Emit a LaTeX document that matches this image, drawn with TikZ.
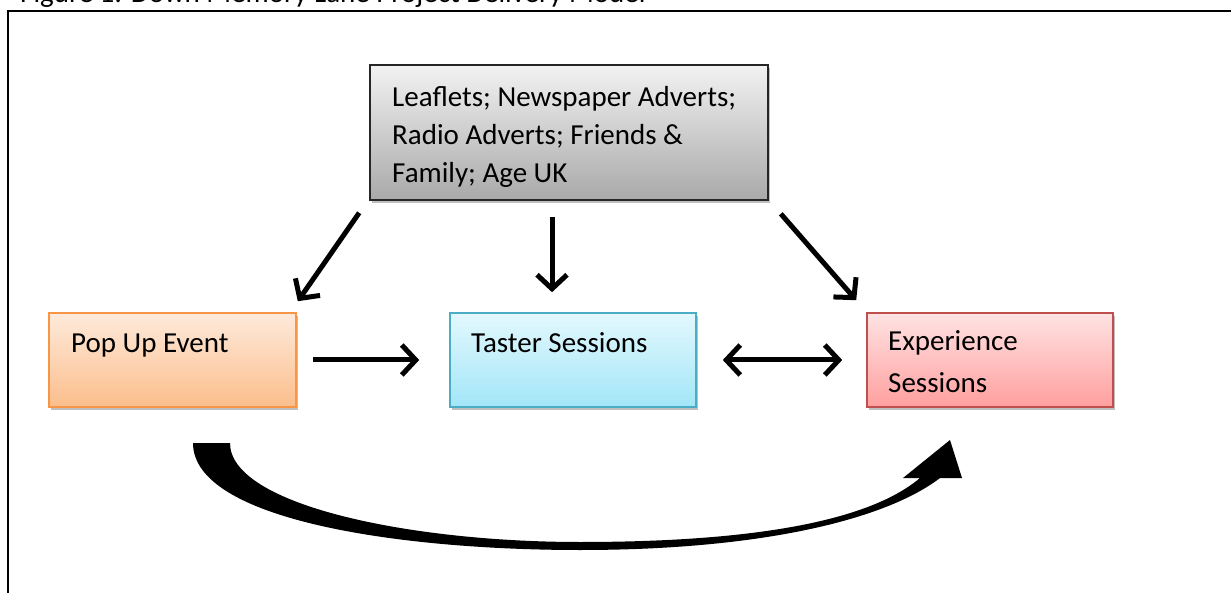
\documentclass[tikz,border=0pt]{standalone}
\usepackage{fontspec}
\setmainfont{Carlito}
\usetikzlibrary{arrows.meta,shadows}
\definecolor{popborder}{HTML}{F79646}
\definecolor{poptop}{HTML}{FEEADB}
\definecolor{popbot}{HTML}{FBBE8C}
\definecolor{tasborder}{HTML}{4BACC6}
\definecolor{tastop}{HTML}{E3F8FD}
\definecolor{tasbot}{HTML}{A2E6F8}
\definecolor{expborder}{HTML}{C0504D}
\definecolor{exptop}{HTML}{FFE3E3}
\definecolor{expbot}{HTML}{FF9F9F}
\definecolor{srctop}{HTML}{F2F2F2}
\definecolor{srcbot}{HTML}{A9A9A9}
\tikzset{
  boxbase/.style={rectangle, inner sep=0pt, line width=1.6pt,
    drop shadow={shadow xshift=2pt, shadow yshift=-3pt, opacity=0.25, fill=black}},
  popbox/.style={boxbase, draw=popborder, top color=poptop, bottom color=popbot},
  tasbox/.style={boxbase, draw=tasborder, top color=tastop, bottom color=tasbot},
  expbox/.style={boxbase, draw=expborder, top color=exptop, bottom color=expbot},
  srcbox/.style={boxbase, draw=black!85, top color=srctop, bottom color=srcbot},
  boxtext/.style={anchor=north west, inner sep=0pt, align=left,
    font=\fontsize{29}{38}\selectfont},
  arr/.style={line width=5pt, >={Straight Barb[length=14pt,width=30pt,line width=5pt]}, ->},
  darr/.style={line width=5pt, >={Straight Barb[length=14pt,width=30pt,line width=5pt]}, <->}
}
\begin{document}
\begin{tikzpicture}[x=1pt,y=-1pt]
\useasboundingbox (0,0) rectangle (1231,593);
\clip (0,0) rectangle (1231,593);
\fill[white] (0,0) rectangle (1231,593);
% title (cut off at top)
\node[anchor=base west, inner sep=0pt, font=\fontsize{29}{34}\selectfont] (title) at (20,3) {Figure 1: Down Memory Lane Project Delivery Model};
% frame
\draw[line width=2.5pt] (1240,11) -- (8,11) -- (8,600);
% boxes
\node[srcbox, minimum width=398pt, minimum height=135pt] (src) at (569,132.5) {};
\node[boxtext] (srct) at (392,86) {Leaflets; Newspaper Adverts;\\Radio Adverts; Friends \&\\Family; Age UK};
\node[popbox, minimum width=247pt, minimum height=94pt] (pop) at (172.5,360) {};
\node[boxtext] (popt) at (71,334) {Pop Up Event};
\node[tasbox, minimum width=246pt, minimum height=94pt] (tas) at (573,360) {};
\node[boxtext] (tast) at (471,332) {Taster Sessions};
\node[expbox, minimum width=246pt, minimum height=94pt] (exp) at (990,360) {};
\node[boxtext, font=\fontsize{29}{42}\selectfont] (expt) at (888,330) {Experience\\Sessions};
% arrows
\draw[arr] ([shift={(-10,12)}]src.south west) -- ([shift={(1,-11)}]pop.north east);
\draw[arr] ([shift={(-17,16)}]src.south) -- ([shift={(-21,-20)}]tas.north);
\draw[arr] ([shift={(12,13)}]src.south east) -- ([shift={(-10,-12)}]exp.north west);
\draw[arr] ([xshift=16pt]pop.east) -- ([xshift=-30pt]tas.west);
\draw[darr] ([xshift=26pt]tas.east) -- ([xshift=-24pt]exp.west);
% curved tapered arrow
\fill[black] (193,443) .. controls (193,520) and (400,550) .. (580,550)
  .. controls (760,550) and (885,520) .. (940,478)
  -- (962,478) -- (950,440) -- (903,478) -- (920,478)
  .. controls (868,522) and (750,542) .. (580,542)
  .. controls (410,542) and (230,505) .. (230,443) -- cycle;
\end{tikzpicture}
\end{document}
